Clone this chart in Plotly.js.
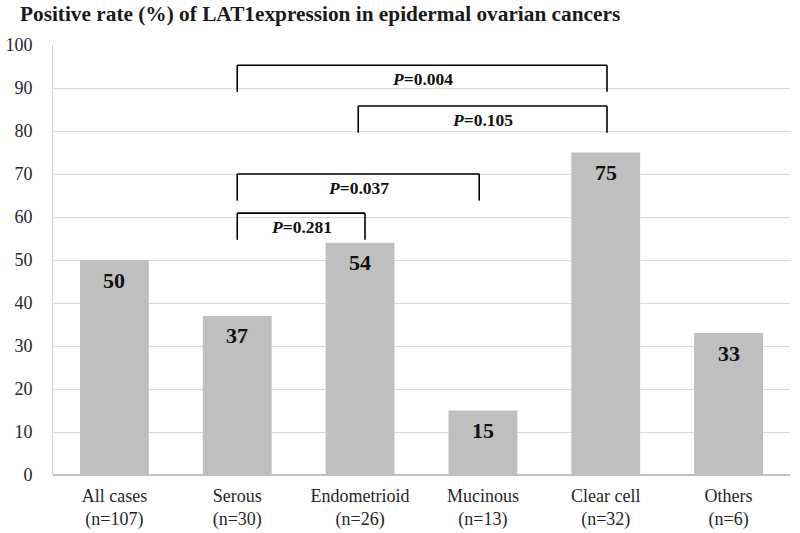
<!DOCTYPE html>
<html>
<head>
<meta charset="utf-8">
<script src="https://cdn.plot.ly/plotly-3.0.1.min.js"></script>
<style>html,body{margin:0;padding:0;background:#fff;}#chart{width:800px;height:533px;}</style>
</head>
<body>
<div id="chart"></div>
<script>
// ---- data ----
var categories = ["All cases", "Serous", "Endometrioid", "Mucinous", "Clear cell", "Others"];
var caseCounts = [107, 30, 26, 13, 32, 6];
var positiveRate = [50, 37, 54, 15, 75, 33];
var compLeft = [1, 2, 1, 1];      // category index of left end of each comparison
var compRight = [4, 4, 3, 2];     // category index of right end
var compP = ["0.004", "0.105", "0.037", "0.281"];
var yTicks = [0, 10, 20, 30, 40, 50, 60, 70, 80, 90, 100];

// ---- styling / layout of comparison brackets ----
var bracketTop = [95.3, 85.8, 70.0, 60.9];
var bracketDrop = 6.2;
var endAdjust = [[0, 0.01], [-0.015, 0.01], [0, -0.03], [0, 0.04]];

var FONT = '"Liberation Serif", "Times New Roman", Times, serif';
var tickText = categories.map(function (c, i) { return c + '<br>(n=' + caseCounts[i] + ')'; });

var trace = {
  type: 'bar',
  x: categories,
  y: positiveRate,
  marker: { color: '#bfbfbf', line: { width: 0 } },
  hoverinfo: 'none'
};

var shapes = [];
var annotations = [];

positiveRate.forEach(function (v, i) {
  annotations.push({
    x: categories[i], y: v, xref: 'x', yref: 'y',
    text: '<b>' + v + '</b>', showarrow: false,
    yanchor: 'middle', yshift: -20,
    font: { family: FONT, size: 22, color: '#111' }
  });
});

compP.forEach(function (p, k) {
  var x0 = compLeft[k] + endAdjust[k][0];
  var x1 = compRight[k] + endAdjust[k][1];
  var yt = bracketTop[k], yb = yt - bracketDrop;
  var ln = { color: '#000', width: 1.6 };
  shapes.push({ type: 'line', xref: 'x', yref: 'y', x0: x0, x1: x0, y0: yb, y1: yt, line: ln });
  shapes.push({ type: 'line', xref: 'x', yref: 'y', x0: x0, x1: x1, y0: yt, y1: yt, line: ln });
  shapes.push({ type: 'line', xref: 'x', yref: 'y', x0: x1, x1: x1, y0: yt, y1: yb, line: ln });
  annotations.push({
    x: (x0 + x1) / 2, y: yt - 3.2, xref: 'x', yref: 'y',
    text: '<b><i>P</i>=' + p + '</b>', showarrow: false,
    yanchor: 'middle', xanchor: 'center',
    font: { family: FONT, size: 17.5, color: '#111' }
  });
});

var layout = {
  width: 800, height: 533,
  margin: { l: 53, r: 10, t: 45, b: 58 },
  paper_bgcolor: '#fff', plot_bgcolor: '#fff',
  showlegend: false,
  bargap: 0.44,
  title: {
    text: '<b>Positive rate (%) of LAT1expression in epidermal ovarian cancers</b>',
    xref: 'container', yref: 'container', x: 0.025, xanchor: 'left',
    y: 1 - 14 / 533, yanchor: 'middle',
    font: { family: FONT, size: 21.3, color: '#1a1a1a' }
  },
  xaxis: {
    type: 'category',
    tickvals: categories, ticktext: tickText,
    showgrid: false, zeroline: false,
    showline: false, ticks: '',
    ticklabelstandoff: 8,
    tickfont: { family: FONT, size: 18, color: '#262626' },
    fixedrange: true
  },
  yaxis: {
    range: [0, 100],
    tickvals: yTicks,
    showgrid: true, gridcolor: '#d9d9d9', gridwidth: 1,
    zeroline: true, zerolinecolor: '#bfbfbf', zerolinewidth: 1.5,
    showline: true, linecolor: '#d0d0d0', linewidth: 1,
    ticks: '',
    ticklabelstandoff: 16,
    tickfont: { family: FONT, size: 18, color: '#262626' },
    fixedrange: true
  },
  shapes: shapes,
  annotations: annotations
};

Plotly.newPlot('chart', [trace], layout, { staticPlot: true, displayModeBar: false });
</script>
</body>
</html>
